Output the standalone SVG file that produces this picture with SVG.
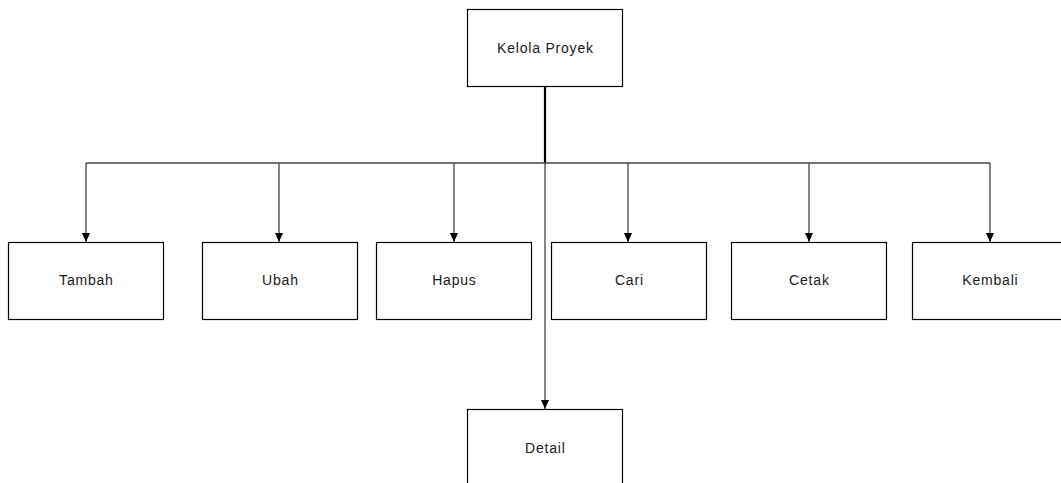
<svg xmlns="http://www.w3.org/2000/svg" width="1061" height="483" viewBox="0 0 1061 483">
<style>
.box{fill:#fff;stroke:#000;stroke-width:1.2}
.lbl{font-family:"Liberation Sans",Arial,sans-serif;font-size:14px;letter-spacing:0.8px;fill:#1a1a1a;text-anchor:middle}
.conn{fill:none;stroke:#444;stroke-width:1.3}
</style>
<defs>
<marker id="arr" markerWidth="10" markerHeight="10" refX="9" refY="5" orient="auto" markerUnits="userSpaceOnUse">
<path d="M0,1 L9,5 L0,9 Z" fill="#000"/>
</marker>
</defs>
<rect width="1061" height="483" fill="#fff"/>
<g id="connectors">
<line x1="545" y1="87" x2="545" y2="163" stroke="#000" stroke-width="2.2"/>
<line class="conn" x1="86" y1="163" x2="990" y2="163"/>
<path class="conn" d="M86,163 V242" marker-end="url(#arr)"/>
<path class="conn" d="M279,163 V242" marker-end="url(#arr)"/>
<path class="conn" d="M454,163 V242" marker-end="url(#arr)"/>
<path class="conn" d="M628,163 V242" marker-end="url(#arr)"/>
<path class="conn" d="M809,163 V242" marker-end="url(#arr)"/>
<path class="conn" d="M990,163 V242" marker-end="url(#arr)"/>
<path class="conn" d="M545,163 V409" stroke="#777" marker-end="url(#arr)"/>
</g>
<g id="node-kelola"><rect class="box" x="467.5" y="9.5" width="155" height="77"/><text class="lbl" x="545.4" y="53">Kelola Proyek</text></g>
<g id="node-tambah"><rect class="box" x="8.5" y="242.5" width="155" height="77"/><text class="lbl" x="86.4" y="285">Tambah</text></g>
<g id="node-ubah"><rect class="box" x="202.5" y="242.5" width="155" height="77"/><text class="lbl" x="280.4" y="285">Ubah</text></g>
<g id="node-hapus"><rect class="box" x="376.5" y="242.5" width="155" height="77"/><text class="lbl" x="454.4" y="285">Hapus</text></g>
<g id="node-cari"><rect class="box" x="551.5" y="242.5" width="155" height="77"/><text class="lbl" x="629.4" y="285">Cari</text></g>
<g id="node-cetak"><rect class="box" x="731.5" y="242.5" width="155" height="77"/><text class="lbl" x="809.4" y="285">Cetak</text></g>
<g id="node-kembali"><rect class="box" x="912.5" y="242.5" width="155" height="77"/><text class="lbl" x="990.4" y="285">Kembali</text></g>
<g id="node-detail"><rect class="box" x="467.5" y="409.5" width="155" height="77"/><text class="lbl" x="545.4" y="453">Detail</text></g>
</svg>
